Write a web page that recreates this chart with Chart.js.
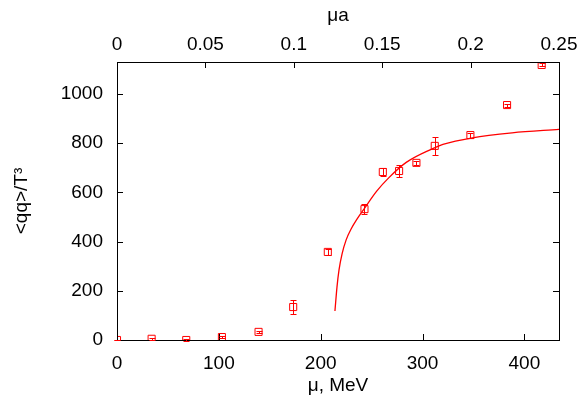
<!DOCTYPE html>
<html>
<head>
<meta charset="utf-8">
<script src="https://cdn.jsdelivr.net/npm/chart.js@4"></script>
<style>
  html, body { margin: 0; padding: 0; background: #fff; }
  #box { width: 584px; height: 401px; }
</style>
</head>
<body>
<div id="box"><canvas id="grafik"></canvas></div>
<script>
// lattice points: mu (MeV), <qq>/T^3 and its error
const muVals = [0, 34, 68, 103, 139, 173, 207, 243, 261, 277, 294, 312, 347, 383, 417];
const qqVals = [0, 5, 0, 12, 33, 134, 358, 532, 683, 687, 720, 789, 833, 955, 1118];
const qqErr = [2, 3, 3, 5, 5, 28, 12, 20, 15, 25, 8, 35, 10, 6, 6];

// fit curve
const fitMu = [214, 216, 218, 221, 225, 230, 235, 243, 255, 267, 284, 310, 320, 349, 388, 434];
const fitVal = [118, 215, 285, 350, 407, 452, 487, 535, 605, 660, 722, 778, 795, 822, 842, 856];

const yTicks = [0, 200, 400, 600, 800, 1000];
const xTicks = [0, 100, 200, 300, 400];
const topTicks = [0, 0.05, 0.1, 0.15, 0.2, 0.25];

const red = "#ff0000";
const fontTick = { family: "'Liberation Sans', Arial, sans-serif", size: 19 };

function pakaiTicks(list) {
  return function (scale) {
    scale.ticks = list.map(v => ({ value: v }));
  };
}

// gnuplot style frame with inward ticks, then error bars on top
const bingkai = {
  id: "bingkai",
  afterDraw(chart) {
    const ctx = chart.ctx;
    const x = chart.scales.x, y = chart.scales.y, x2 = chart.scales.x2;
    const a = chart.chartArea;

    ctx.save();
    ctx.strokeStyle = "#000";
    ctx.lineWidth = 1;
    ctx.strokeRect(a.left + 0.5, a.top + 0.5, a.right - a.left, a.bottom - a.top);
    const len = 6;
    ctx.beginPath();
    xTicks.forEach(v => {
      const px = Math.round(x.getPixelForValue(v)) + 0.5;
      ctx.moveTo(px, a.bottom);
      ctx.lineTo(px, a.bottom - len);
    });
    topTicks.forEach(v => {
      const px = Math.round(x2.getPixelForValue(v)) + 0.5;
      ctx.moveTo(px, a.top);
      ctx.lineTo(px, a.top + len);
    });
    yTicks.forEach(v => {
      const py = Math.round(y.getPixelForValue(v)) + 0.5;
      ctx.moveTo(a.left, py);
      ctx.lineTo(a.left + len, py);
      ctx.moveTo(a.right, py);
      ctx.lineTo(a.right - len, py);
    });
    ctx.stroke();

    muVals.forEach((m, i) => {
      const px = Math.round(x.getPixelForValue(m)) + 0.5;
      const top = Math.round(y.getPixelForValue(qqVals[i] + qqErr[i])) + 0.5;
      const bot = Math.round(y.getPixelForValue(qqVals[i] - qqErr[i])) + 0.5;
      ctx.strokeStyle = "rgb(255,0,0)";
      ctx.lineWidth = 1;
      ctx.beginPath();
      ctx.moveTo(px, top);
      ctx.lineTo(px, bot);
      ctx.moveTo(px - 3, top);
      ctx.lineTo(px + 3, top);
      ctx.moveTo(px - 3, bot);
      ctx.lineTo(px + 3, bot);
      ctx.stroke();
    });
    ctx.restore();
  }
};

const ctx = document.getElementById("grafik").getContext("2d");
new Chart(ctx, {
  type: "scatter",
  data: {
    datasets: [
      {
        label: "data",
        data: muVals.map((m, i) => ({ x: m, y: qqVals[i] })),
        pointStyle: "rect",
        radius: 5,
        borderColor: red,
        borderWidth: 1,
        backgroundColor: "rgba(0,0,0,0)",
        showLine: false
      },
      {
        label: "fit",
        data: fitMu.map((m, i) => ({ x: m, y: fitVal[i] })),
        showLine: true,
        borderColor: red,
        borderWidth: 1.3,
        pointRadius: 0,
        cubicInterpolationMode: "monotone",
        fill: false
      }
    ]
  },
  options: {
    responsive: true,
    maintainAspectRatio: false,
    animation: false,
    layout: { padding: { left: 0, right: 25, top: 0, bottom: 0 } },
    plugins: { legend: { display: false }, tooltip: { enabled: false } },
    scales: {
      x: {
        type: "linear",
        position: "bottom",
        min: 0,
        max: 434,
        afterBuildTicks: pakaiTicks(xTicks),
        afterFit: s => { s.height = 61; },
        grid: { display: false, drawTicks: false },
        border: { display: false },
        ticks: { color: "#000", font: fontTick, padding: 12, maxRotation: 0, callback: v => String(v) },
        title: { display: true, text: "μ, MeV", color: "#000", font: fontTick, padding: { top: 8 } }
      },
      x2: {
        type: "linear",
        position: "top",
        min: 0,
        max: 0.25,
        afterBuildTicks: pakaiTicks(topTicks),
        afterFit: s => { s.height = 62; },
        grid: { display: false, drawTicks: false },
        border: { display: false },
        ticks: { color: "#000", font: fontTick, padding: 6, maxRotation: 0, callback: v => String(+v.toFixed(2)) },
        title: { display: true, text: "μa", color: "#000", font: fontTick, padding: { bottom: 0 } }
      },
      y: {
        type: "linear",
        min: 0,
        max: 1130,
        afterBuildTicks: pakaiTicks(yTicks),
        afterFit: s => { s.width = 117; },
        grid: { display: false, drawTicks: false },
        border: { display: false },
        ticks: { color: "#000", font: fontTick, padding: 14, callback: v => String(v) },
        title: { display: true, text: "<qq>/T³", color: "#000", font: fontTick, padding: { top: 10, bottom: 0 } }
      }
    }
  },
  plugins: [bingkai]
});
</script>
</body>
</html>
